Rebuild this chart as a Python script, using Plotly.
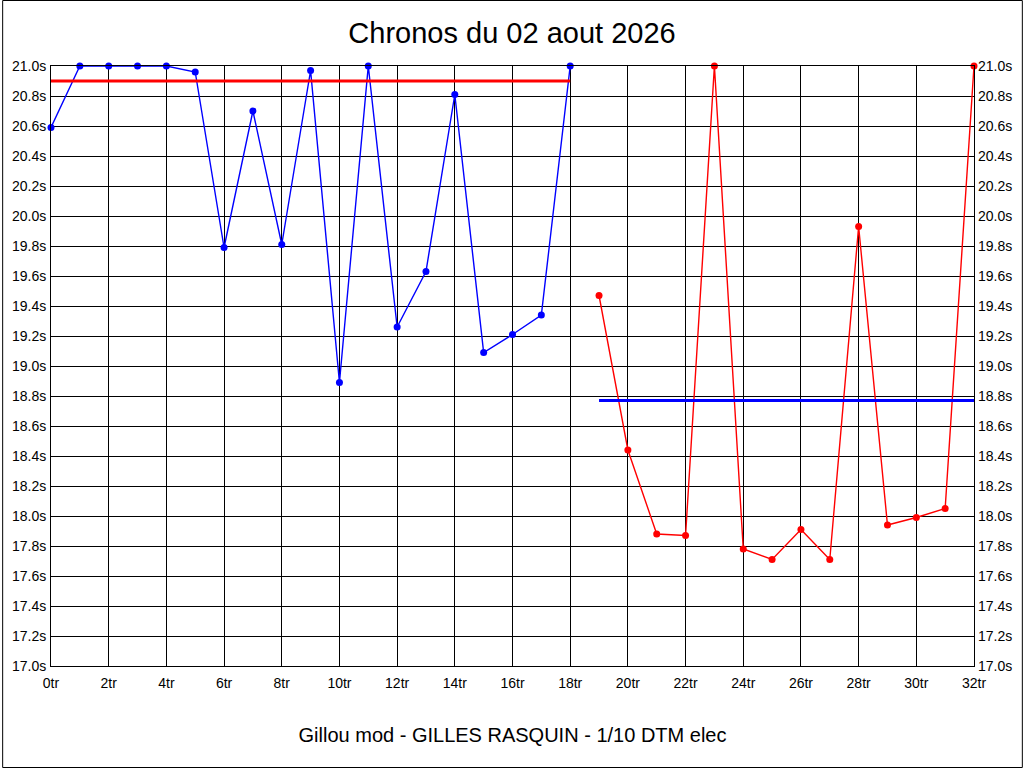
import plotly.graph_objects as go

# tours and chrono values (seconds)
tours_1 = list(range(0, 19))
chronos_1 = [20.59, 21.0, 21.0, 21.0, 21.0, 20.96, 19.79, 20.70, 19.81, 20.97,
             18.89, 21.0, 19.26, 19.63, 20.81, 19.09, 19.21, 19.34, 21.0]
tours_2 = list(range(19, 33))
chronos_2 = [19.47, 18.44, 17.88, 17.87, 21.0, 17.78, 17.71, 17.91, 17.71,
             19.93, 17.94, 17.99, 18.05, 21.0]

# horizontal reference lines
ref_1_x = [0, 18]
ref_1_y = [20.9, 20.9]
ref_2_x = [19, 32]
ref_2_y = [18.77, 18.77]

y_ticks = [round(17.0 + 0.2 * i, 1) for i in range(21)]
y_labels = ['%.1fs' % v for v in y_ticks]
x_ticks = list(range(0, 33, 2))
x_labels = ['%dtr' % v for v in x_ticks]

W, H = 1024, 768
L, R, T, B = 49, 49, 66, 102
pw, ph = W - L - R, H - T - B

fig = go.Figure()
fig.add_trace(go.Scatter(
    x=tours_1, y=chronos_1, mode='lines+markers',
    line=dict(color='#0000ff', width=1.4),
    marker=dict(color='#0000ff', size=7),
    cliponaxis=False, showlegend=False
))
fig.add_trace(go.Scatter(
    x=ref_1_x, y=ref_1_y, mode='lines',
    line=dict(color='#ff0000', width=3), showlegend=False
))
# second half drawn against the right-hand axis (same range)
fig.add_trace(go.Scatter(
    x=tours_2, y=chronos_2, mode='lines+markers', yaxis='y2',
    line=dict(color='#ff0000', width=1.4),
    marker=dict(color='#ff0000', size=7),
    cliponaxis=False, showlegend=False
))
fig.add_trace(go.Scatter(
    x=ref_2_x, y=ref_2_y, mode='lines', yaxis='y2',
    line=dict(color='#0000ff', width=3), showlegend=False
))

tick_font = dict(family='Liberation Sans, Arial', size=14, color='black')
fig.update_layout(
    width=W, height=H,
    margin=dict(l=L, r=R, t=T, b=B),
    paper_bgcolor='white', plot_bgcolor='white',
    font=dict(family='Liberation Sans, Arial', color='black'),
    title=dict(text='Chronos du 02 aout 2026', x=0.5, xanchor='center',
               y=1 - 33 / H, yanchor='middle',
               font=dict(size=29, color='black')),
    xaxis=dict(
        range=[0, 32], tickmode='array', tickvals=x_ticks, ticktext=x_labels,
        showgrid=True, gridcolor='black', gridwidth=1,
        showline=True, linecolor='black', linewidth=1, mirror=True,
        zeroline=False, ticks='', tickfont=tick_font, ticklabelstandoff=4,
        title=dict(text='Gillou mod - GILLES RASQUIN - 1/10 DTM elec',
                   font=dict(size=20), standoff=38),
    ),
    yaxis=dict(
        range=[17, 21], tickmode='array', tickvals=y_ticks, ticktext=y_labels,
        showgrid=True, gridcolor='black', gridwidth=1,
        showline=True, linecolor='black', linewidth=1, mirror=True,
        zeroline=False, ticks='', tickfont=tick_font, ticklabelstandoff=1,
    ),
    yaxis2=dict(
        range=[17, 21], tickmode='array', tickvals=y_ticks, ticktext=y_labels,
        overlaying='y', side='right', showgrid=False, zeroline=False,
        ticks='', tickfont=tick_font, ticklabelstandoff=3,
    ),
    shapes=[dict(
        type='rect', xref='paper', yref='paper',
        x0=-(L - 0.5) / pw, x1=1 + (R - 0.5) / pw,
        y0=-(B - 0.5) / ph, y1=1 + (T - 0.5) / ph,
        line=dict(color='black', width=1), layer='below'
    )],
)

fig.write_html("out.html", config={'displayModeBar': False},
               post_script="document.body.style.margin='0';")
